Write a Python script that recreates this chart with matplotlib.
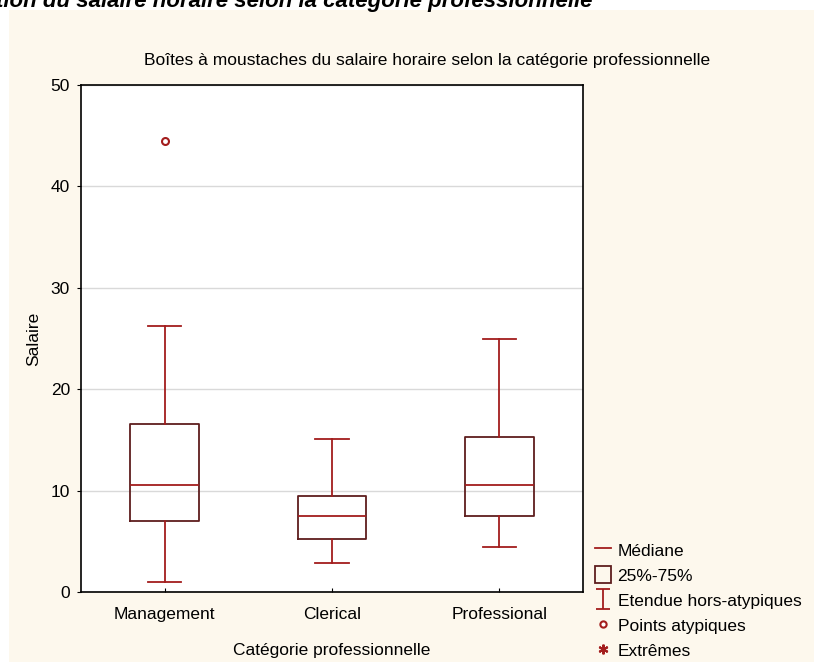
import numpy as np
import matplotlib.pyplot as plt
from matplotlib.lines import Line2D
from matplotlib.patches import Rectangle
from matplotlib.path import Path

plt.rcParams['font.family'] = ['Liberation Sans', 'DejaVu Sans']

categories = ['Management', 'Clerical', 'Professional']
whisker_low = [1.0, 2.9, 4.4]
q1 = [7.0, 5.2, 7.5]
median = [10.6, 7.5, 10.6]
q3 = [16.6, 9.45, 15.3]
whisker_high = [26.2, 15.1, 25.0]
outliers = [[44.5], [], []]

red = '#a31d1d'
dark = '#5e1e1e'
beige = '#fdf8ed'

fig = plt.figure(figsize=(8.14, 6.62), dpi=100)
fig.patch.set_facecolor('white')
fig.patches.append(Rectangle((9 / 814, 0), 1, 1 - 10 / 662, transform=fig.transFigure,
                             facecolor=beige, edgecolor='none', zorder=-10))

# cut-off caption above the panel
fig.text(592 / 814, 1 - 7 / 662, 'Distribution du salaire horaire selon la catégorie professionnelle',
         ha='right', va='baseline', fontsize=16, fontweight='bold', fontstyle='italic')

ax = fig.add_axes([81 / 814, 1 - 592 / 662, 502 / 814, 507 / 662])
ax.set_facecolor('white')

stats = []
for i, name in enumerate(categories):
    stats.append({'label': name, 'whislo': whisker_low[i], 'q1': q1[i], 'med': median[i],
                  'q3': q3[i], 'whishi': whisker_high[i], 'fliers': outliers[i]})

ax.bxp(stats, positions=[1, 2, 3], widths=0.41, showfliers=True,
       boxprops=dict(color=dark, linewidth=1.3),
       medianprops=dict(color=red, linewidth=1.3),
       whiskerprops=dict(color=red, linewidth=1.3),
       capprops=dict(color=red, linewidth=1.3),
       capwidths=0.2,
       flierprops=dict(marker='o', markersize=5, markerfacecolor='white',
                       markeredgecolor=red, markeredgewidth=1.5))

ax.set_xlim(0.5, 3.5)
ax.set_ylim(0, 50)
ax.set_yticks([0, 10, 20, 30, 40, 50])
ax.yaxis.grid(True, color='#d9d9d9', linewidth=1)
ax.set_axisbelow(True)
for s in ax.spines.values():
    s.set_color('black')
    s.set_linewidth(1.2)
ax.tick_params(axis='x', direction='in', length=3, labelsize=12.5, pad=11)
ax.tick_params(axis='y', direction='out', length=3, labelsize=12.5, pad=5)

fig.text(427 / 814, 1 - 61 / 662,
         'Boîtes à moustaches du salaire horaire selon la catégorie professionnelle',
         ha='center', va='center', fontsize=12.5)
ax.set_xlabel('Catégorie professionnelle', fontsize=12.5, labelpad=15)
ax.set_ylabel('Salaire', fontsize=12.5, labelpad=7)

# legend handles
ibar = Path([(-0.7, 1), (0.7, 1), (0, 1), (0, -1), (-0.7, -1), (0.7, -1)],
            [Path.MOVETO, Path.LINETO, Path.MOVETO, Path.LINETO, Path.MOVETO, Path.LINETO])
handles = [
    Line2D([], [], color=red, linewidth=1.3),
    Rectangle((0, 0), 1, 1, facecolor='none', edgecolor=dark, linewidth=1.3),
    Line2D([], [], linestyle='none', marker=ibar, markersize=14, markeredgecolor=red,
           markeredgewidth=1.3, markerfacecolor='none'),
    Line2D([], [], linestyle='none', marker='o', markersize=4.5, markerfacecolor='white',
           markeredgecolor=red, markeredgewidth=1.5),
    Line2D([], [], linestyle='none', marker=(6, 2, 0), markersize=7, markeredgecolor=red,
           markeredgewidth=1.5),
]
labels = ['Médiane', '25%-75%', 'Etendue hors-atypiques', 'Points atypiques', 'Extrêmes']
fig.legend(handles, labels, loc='lower left', bbox_to_anchor=(588 / 814, -4 / 662),
           frameon=False, fontsize=12.5, handlelength=0.95, handleheight=1.15,
           handletextpad=0.35, labelspacing=0.44, borderaxespad=0.2, borderpad=0.2)

fig.savefig('out.png', dpi=100, facecolor=fig.get_facecolor())
